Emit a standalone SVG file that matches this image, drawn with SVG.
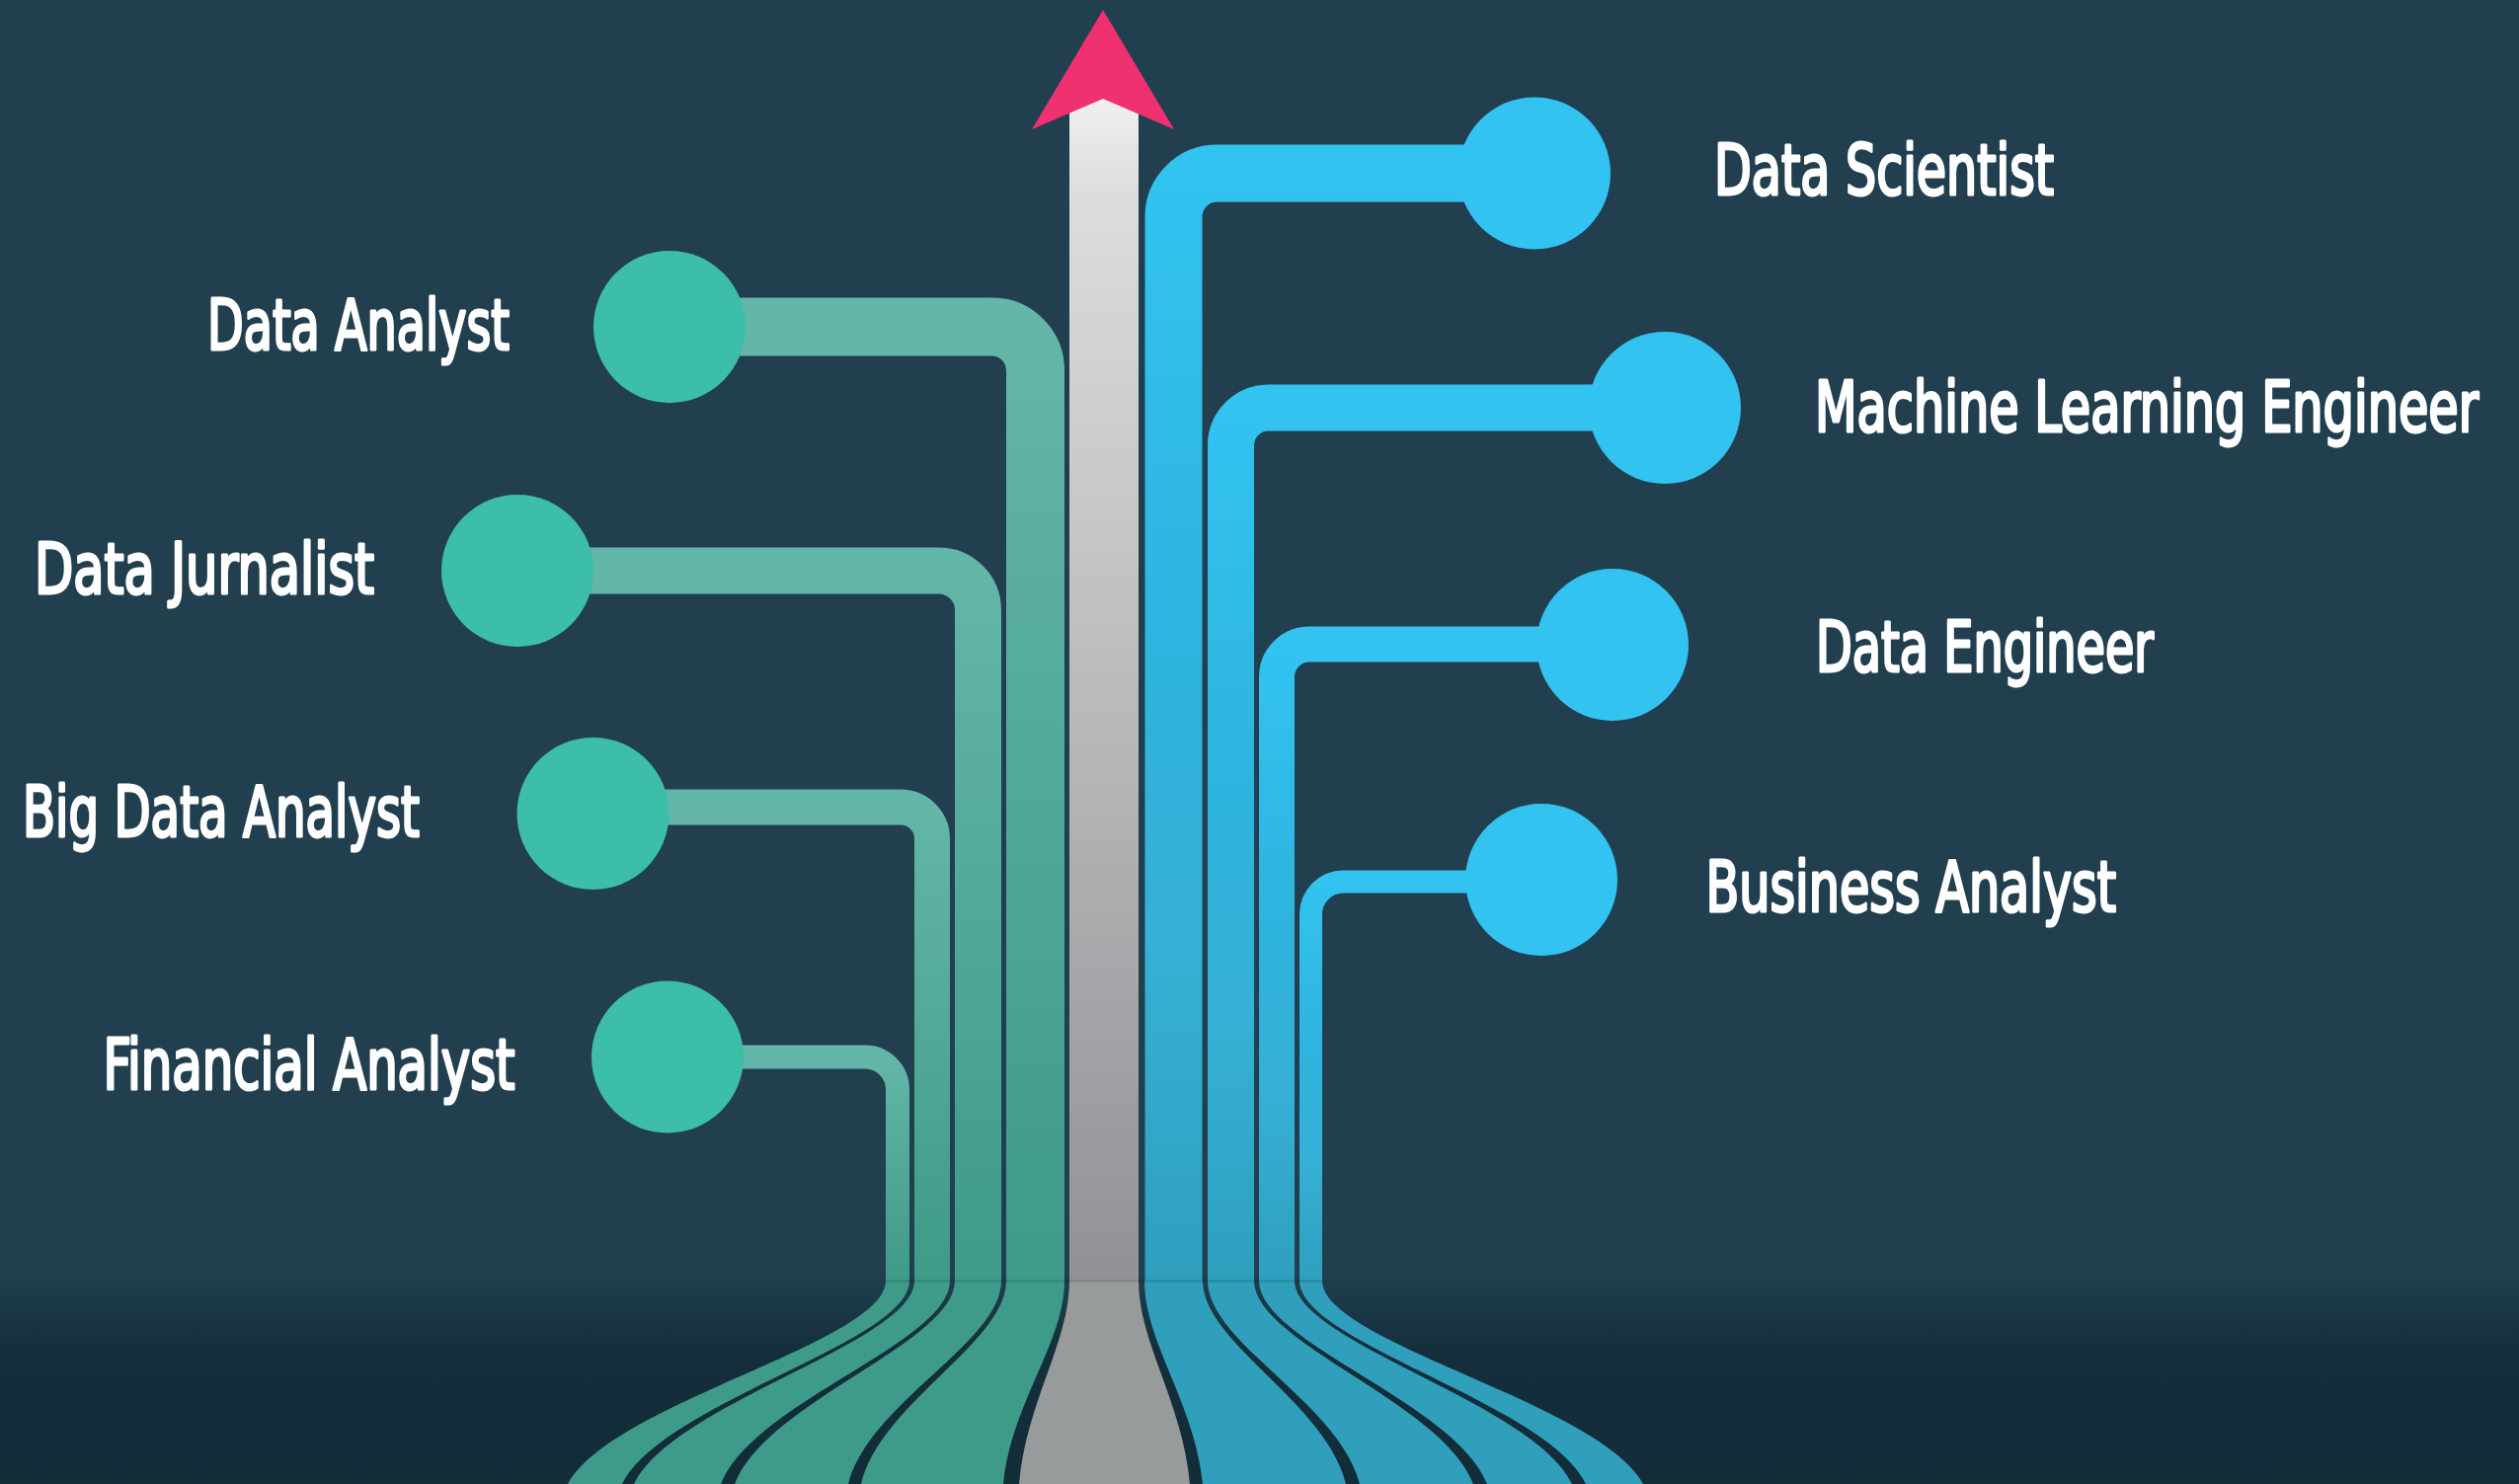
<svg xmlns="http://www.w3.org/2000/svg" width="2551" height="1503" viewBox="0 0 2551 1503">
  <defs>
    <linearGradient id="bg" x1="0" y1="0" x2="0" y2="1503" gradientUnits="userSpaceOnUse">
      <stop offset="0" stop-color="#213f4f"/>
      <stop offset="0.858" stop-color="#213f4f"/>
      <stop offset="0.91" stop-color="#142f3b"/>
      <stop offset="1" stop-color="#122c38"/>
    </linearGradient>
    <linearGradient id="gShaft" x1="0" y1="100" x2="0" y2="1297" gradientUnits="userSpaceOnUse">
      <stop offset="0" stop-color="#f0f0f0"/>
      <stop offset="0.08" stop-color="#dcdddd"/>
      <stop offset="1" stop-color="#929296"/>
    </linearGradient>
    <linearGradient id="gGreen" x1="0" y1="0" x2="0" y2="1">
      <stop offset="0" stop-color="#63b6a8"/>
      <stop offset="1" stop-color="#3f9a88"/>
    </linearGradient>
    <linearGradient id="gBlue" x1="0" y1="0" x2="0" y2="1">
      <stop offset="0" stop-color="#33c3f0"/>
      <stop offset="0.45" stop-color="#2eb3dd"/>
      <stop offset="0.7" stop-color="#36b0d6"/>
      <stop offset="1" stop-color="#2f9fbd"/>
    </linearGradient>
    <style>
      .pg { fill: none; stroke: url(#gGreen); stroke-linecap: butt; }
      .pb { fill: none; stroke: url(#gBlue); stroke-linecap: butt; }
      .fg { fill: #3e9b89; }
      .fb { fill: #2f9fbb; }
      .fs { fill: #989b9b; }
      .cg { fill: #3dbea9; }
      .cb { fill: #32c3f1; }
      .lbl { font-family: 'DejaVu Sans Condensed', 'Liberation Sans Narrow', 'Liberation Sans', sans-serif; font-weight: normal; font-size: 71px; fill: #ffffff; stroke: #ffffff; stroke-width: 3px; stroke-linejoin: round; }
    </style>
  </defs>

  <rect x="0" y="0" width="2551" height="1503" fill="url(#bg)"/>

  <g id="connectors">
    <g id="fan">
      <path class="fg" d="M897,1297 H921 C921,1360 670.7,1420 630,1503 H575 C620.1,1420 897,1360 897,1297 Z"/>
      <path class="fg" d="M926,1297 H962 C962,1360 762.5,1420 730,1503 H642 C681.8,1420 926,1360 926,1297 Z"/>
      <path class="fg" d="M967,1297 H1014 C1014,1360 880.7,1420 859,1503 H744 C775.2,1420 967,1360 967,1297 Z"/>
      <path class="fg" d="M1019,1297 H1078 C1078,1360 1024.7,1420 1016,1503 H872 C892.6,1420 1019,1360 1019,1297 Z"/>
      <path class="fs" d="M1083,1297 H1153 C1153,1360 1197.7,1420 1205,1503 H1032 C1039.1,1420 1083,1360 1083,1297 Z"/>
      <path class="fb" d="M1159,1297 H1218 C1218,1360 1342.7,1420 1363,1503 H1218 C1209.7,1420 1159,1360 1159,1297 Z"/>
      <path class="fb" d="M1223,1297 H1270 C1270,1360 1460.9,1420 1492,1503 H1377 C1355.4,1420 1223,1360 1223,1297 Z"/>
      <path class="fb" d="M1275,1297 H1311 C1311,1360 1552.7,1420 1592,1503 H1506 C1473.7,1420 1275,1360 1275,1297 Z"/>
      <path class="fb" d="M1316,1297 H1339 C1339,1360 1618.5,1420 1664,1503 H1606 C1565.4,1420 1316,1360 1316,1297 Z"/>
    </g>

    <rect x="1083" y="100" width="70" height="1197" fill="url(#gShaft)"/>

    <path class="pg" stroke-width="59" d="M678,331 H1004.5 A44,44 0 0 1 1048.5,375 V1297"/>
    <path class="pg" stroke-width="47" d="M524,578 H950.5 A40,40 0 0 1 990.5,618 V1297"/>
    <path class="pg" stroke-width="36" d="M600,817.5 H912 A32,32 0 0 1 944,849.5 V1297"/>
    <path class="pg" stroke-width="24" d="M676,1070.5 H876 A33,33 0 0 1 909,1103.5 V1297"/>

    <path class="pb" stroke-width="58" d="M1554,175.5 H1232.5 A44,44 0 0 0 1188.5,219.5 V1297"/>
    <path class="pb" stroke-width="47" d="M1685,413 H1284.5 A38,38 0 0 0 1246.5,451 V1297"/>
    <path class="pb" stroke-width="36" d="M1633,652.5 H1326 A33,33 0 0 0 1293,685.5 V1297"/>
    <path class="pb" stroke-width="23" d="M1561,893 H1360.5 A33,33 0 0 0 1327.5,926 V1297"/>

    <line x1="897" y1="1297.5" x2="1339" y2="1297.5" stroke="#000000" stroke-opacity="0.15" stroke-width="2"/>

    <polygon points="1117,10 1189,131 1117,100 1045,131" fill="#ef3171"/>
  </g>

  <g id="data-analyst">
    <circle class="cg" cx="678" cy="331" r="77"/>
    <text class="lbl" x="210" y="354" textLength="306" lengthAdjust="spacingAndGlyphs">Data Analyst</text>
  </g>
  <g id="data-jurnalist">
    <circle class="cg" cx="524" cy="578" r="77"/>
    <text class="lbl" x="35" y="601" textLength="344" lengthAdjust="spacingAndGlyphs">Data Jurnalist</text>
  </g>
  <g id="big-data-analyst">
    <circle class="cg" cx="600.5" cy="824" r="77"/>
    <text class="lbl" x="23" y="847" textLength="402" lengthAdjust="spacingAndGlyphs">Big Data Analyst</text>
  </g>
  <g id="financial-analyst">
    <circle class="cg" cx="676" cy="1070.5" r="77"/>
    <text class="lbl" x="104.5" y="1103" textLength="417" lengthAdjust="spacingAndGlyphs">Financial Analyst</text>
  </g>

  <g id="data-scientist">
    <circle class="cb" cx="1554" cy="175.5" r="77"/>
    <text class="lbl" x="1736" y="197" textLength="344" lengthAdjust="spacingAndGlyphs">Data Scientist</text>
  </g>
  <g id="machine-learning-engineer">
    <circle class="cb" cx="1686" cy="413" r="77"/>
    <text class="lbl" x="1838" y="437" textLength="672" lengthAdjust="spacingAndGlyphs">Machine Learning Engineer</text>
  </g>
  <g id="data-engineer">
    <circle class="cb" cx="1633" cy="653" r="77"/>
    <text class="lbl" x="1839" y="680" textLength="342" lengthAdjust="spacingAndGlyphs">Data Engineer</text>
  </g>
  <g id="business-analyst">
    <circle class="cb" cx="1561" cy="891" r="77"/>
    <text class="lbl" x="1727.5" y="922.5" textLength="415.5" lengthAdjust="spacingAndGlyphs">Business Analyst</text>
  </g>
</svg>
